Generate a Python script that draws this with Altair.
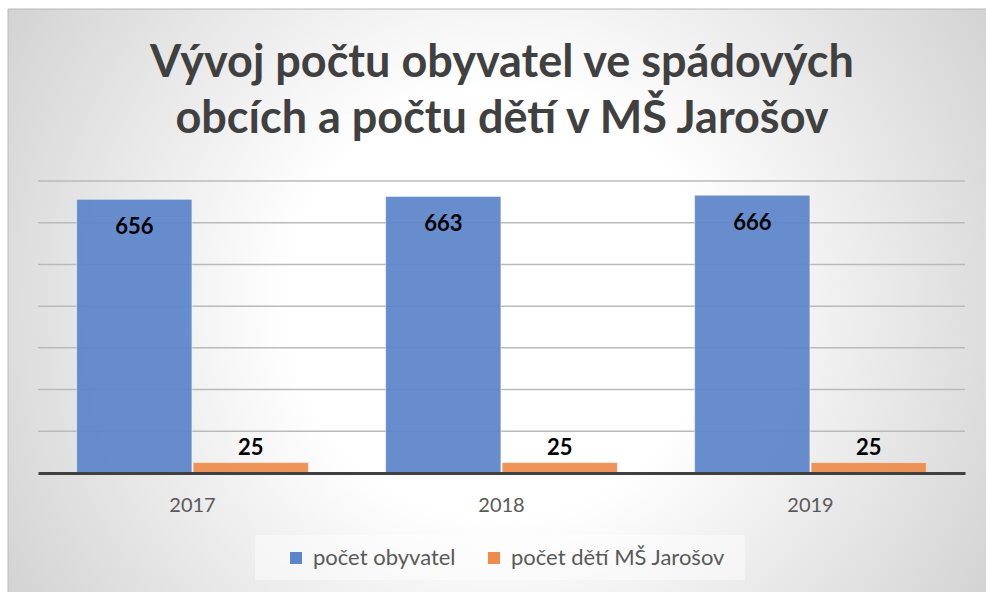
import altair as alt
import pandas as pd

years = ["2017", "2018", "2019"]
series_names = ["počet obyvatel", "počet dětí MŠ Jarošov"]
obyvatel = [656, 663, 666]
deti = [25, 25, 25]
grid_values = [100, 200, 300, 400, 500, 600, 700]
colors = ["#5B84C9", "#EE8C4B"]
title_lines = ["Vývoj počtu obyvatel ve spádových", "obcích a počtu dětí v MŠ Jarošov"]

rows = []
for i, y in enumerate(years):
    rows.append({"rok": y, "serie": series_names[0], "hodnota": obyvatel[i]})
    rows.append({"rok": y, "serie": series_names[1], "hodnota": deti[i]})
df = pd.DataFrame(rows)
grid_df = pd.DataFrame({"hodnota": grid_values})

W, H = 927, 292
PL, PT, PR, PB = 38, 181, 21, 119
FONT = "Lato"

one = alt.Data(values=[{}])

y_scale = alt.Scale(domain=[0, 700], nice=False)

background = alt.Chart(one).mark_rect(
    fill={
        "gradient": "radial",
        "x1": 0.5, "y1": 0.5, "r1": 0,
        "x2": 0.5, "y2": 0.5, "r2": 0.72,
        "stops": [
            {"offset": 0, "color": "#ffffff"},
            {"offset": 0.3, "color": "#ffffff"},
            {"offset": 1, "color": "#c2c2c2"},
        ],
    },
    stroke="#b8b8b8",
    strokeWidth=1,
).encode(
    x=alt.value(8 - PL), x2=alt.value(986 - PL + 5),
    y=alt.value(9 - PT), y2=alt.value(592 - PT + 5),
)

title = alt.Chart(one).mark_text(
    font=FONT, fontSize=45, fontWeight="bold", color="#404040",
    align="center", baseline="alphabetic", lineHeight=56,
).encode(
    x=alt.value(502 - PL), y=alt.value(77 - PT), text=alt.value(title_lines),
)

legend_box = alt.Chart(one).mark_rect(fill="#ffffff", fillOpacity=0.45).encode(
    x=alt.value(255 - PL), x2=alt.value(745 - PL),
    y=alt.value(535 - PT), y2=alt.value(580 - PT),
)

grid = alt.Chart(grid_df).mark_rule(color="#bababa", strokeWidth=1.5).encode(
    y=alt.Y("hodnota:Q", scale=y_scale, axis=None),
)

x_enc = alt.X(
    "rok:N",
    sort=years,
    title=None,
    scale=alt.Scale(paddingInner=0.25, paddingOuter=0.125),
    axis=alt.Axis(
        labelAngle=0, labelFont=FONT, labelFontSize=20, labelColor="#595959",
        labelPadding=22, ticks=False, domainColor="#404040", domainWidth=3,
        grid=False, zindex=1,
    ),
)
y_enc = alt.Y("hodnota:Q", title=None, scale=y_scale, axis=None)
xoff = alt.XOffset("serie:N", sort=series_names, scale=alt.Scale(paddingInner=0.01))

bars = alt.Chart(df).mark_bar(
    stroke="#ffffff", strokeOpacity=0.5, strokeWidth=1, fillOpacity=0.93
).encode(
    x=x_enc,
    y=y_enc,
    xOffset=xoff,
    color=alt.Color(
        "serie:N",
        sort=series_names,
        scale=alt.Scale(domain=series_names, range=colors),
        legend=alt.Legend(
            title=None, orient="none", direction="horizontal",
            legendX=291 - PL - 8, legendY=545 - PT,
            symbolType="square", symbolSize=144, symbolStrokeWidth=0,
            symbolOpacity=1,
            labelFont=FONT, labelFontSize=22, labelColor="#595959",
            labelOffset=6, labelLimit=400, columnPadding=27, padding=2,
        ),
    ),
)

labels_top = alt.Chart(df).transform_filter(
    alt.datum.serie == series_names[0]
).mark_text(font=FONT, fontSize=22, fontWeight="bold", color="#000000",
            baseline="middle", dy=28).encode(
    x=alt.X("rok:N", sort=years), y=alt.Y("hodnota:Q", scale=y_scale),
    xOffset=alt.XOffset("serie:N", sort=series_names), text="hodnota:Q",
)

labels_small = alt.Chart(df).transform_filter(
    alt.datum.serie == series_names[1]
).mark_text(font=FONT, fontSize=22, fontWeight="bold", color="#000000",
            baseline="middle", dy=-15).encode(
    x=alt.X("rok:N", sort=years), y=alt.Y("hodnota:Q", scale=y_scale),
    xOffset=alt.XOffset("serie:N", sort=series_names), text="hodnota:Q",
)

chart = alt.layer(
    background, title, legend_box, grid, bars, labels_top, labels_small
).properties(
    width=W, height=H,
    autosize=alt.AutoSizeParams(type="none"),
    padding={"left": PL, "top": PT, "right": PR, "bottom": PB},
    background="#ffffff",
).configure_view(stroke=None)

chart.save("out.html", embed_options={"renderer": "svg", "actions": False})
